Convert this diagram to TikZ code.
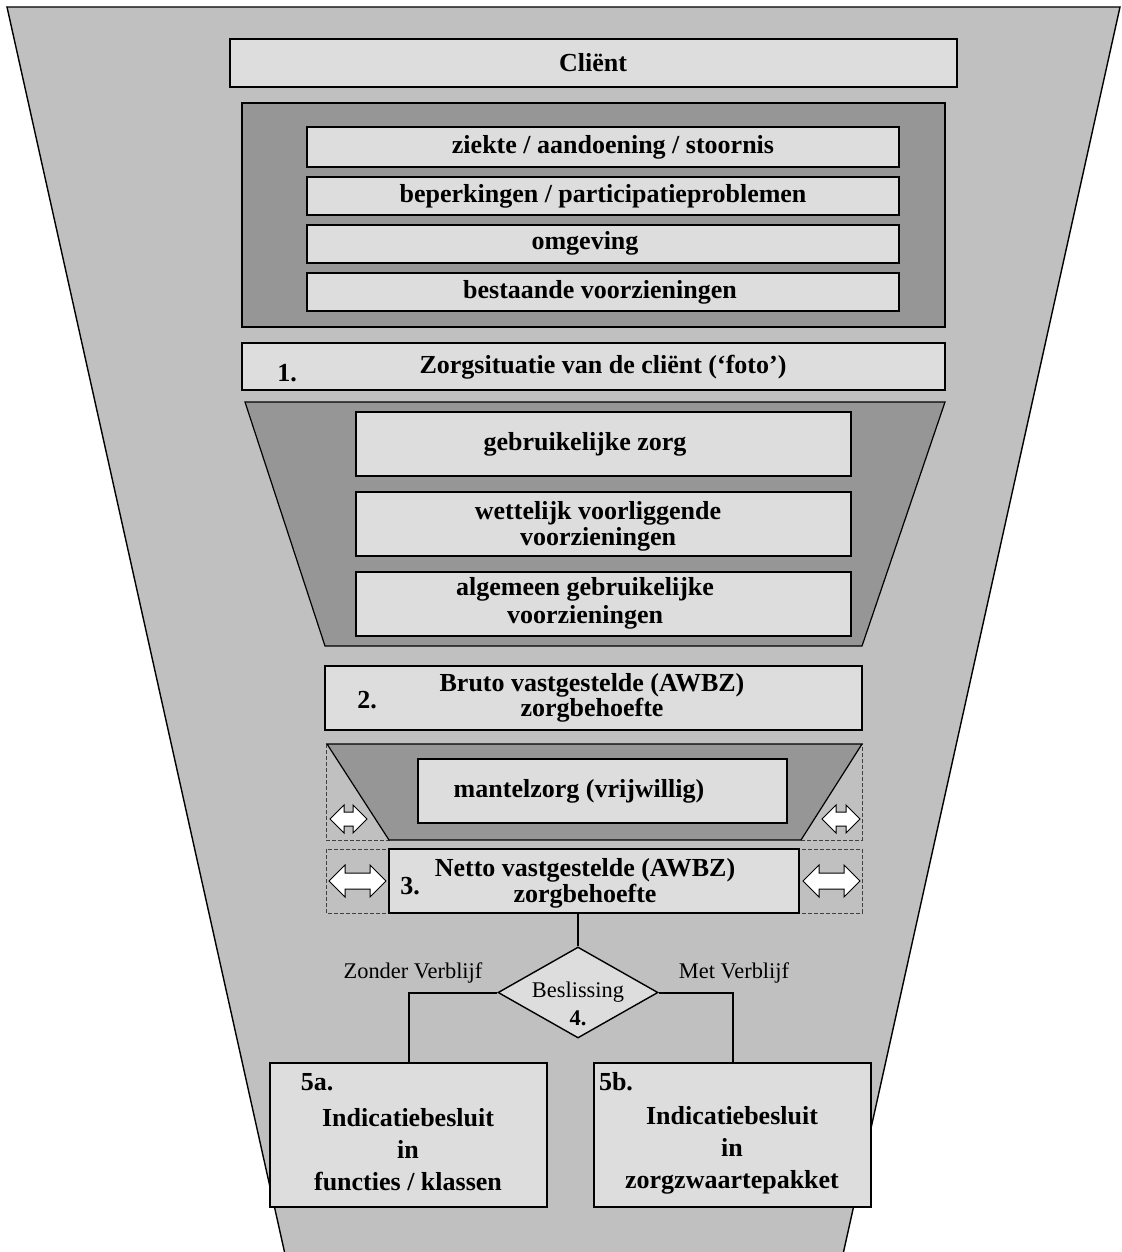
\documentclass[tikz,border=0pt]{standalone}
\usepackage{fontspec}
\setmainfont{Liberation Serif}
\usetikzlibrary{shapes.geometric,fit}
\definecolor{funnelgray}{HTML}{C0C0C0}
\definecolor{boxgray}{HTML}{DDDDDD}
\definecolor{filtergray}{HTML}{969696}
% left x, right x, y, half head height
\newcommand{\dblarrow}[4]{%
  \filldraw[fill=white,line width=0.5pt] (#1,#3) -- (#1+#4,#3-#4) -- (#1+#4,#3-#4/2)
    -- (#2-#4,#3-#4/2) -- (#2-#4,#3-#4) -- (#2,#3) -- (#2-#4,#3+#4)
    -- (#2-#4,#3+#4/2) -- (#1+#4,#3+#4/2) -- (#1+#4,#3+#4) -- cycle;}
\begin{document}
\begin{tikzpicture}[x=0.5pt,y=-0.5pt,
    box/.style={draw,fill=boxgray,line width=0.6pt,inner sep=0pt},
    bold/.style={font=\fontsize{13}{#1}\selectfont\bfseries,align=center,inner sep=0pt},
    bold/.default=13,
    plain/.style={font=\fontsize{11.2}{14}\selectfont,align=center,inner sep=0pt},
    dashbox/.style={draw=black!75,dash pattern=on 1.8pt off 1.2pt,line width=0.4pt},
    link/.style={line width=1pt}]
	\useasboundingbox (0,0) rectangle (1122,1252);
	% funnel
	\fill[funnelgray] (7,7) -- (1120,7) -- (843.5,1252) -- (284.5,1252) -- cycle;
	\draw[line width=0.7pt] (284.5,1252) -- (7,7) -- (1120,7) -- (843.5,1252);
	% client
	\node[box,fit={(230,39)(957,87)}] (client) {};
	\node[bold] (clientt) at (593,63) {Cliënt};
	% situation
	\filldraw[fill=filtergray,line width=0.6pt] (242,103) rectangle (945,327);
	\node[box,fit={(307,127)(899,167)}] (ziekte) {};
	\node[bold] (ziektet) at (613,147) {ziekte / aandoening / stoornis};
	\node[box,fit={(307,177)(899,215)}] (beperking) {};
	\node[bold] (beperkingt) at (603,196) {beperkingen / participatieproblemen};
	\node[box,fit={(307,225)(899,263)}] (omgeving) {};
	\node[bold] (omgevingt) at (585,243) {omgeving};
	\node[box,fit={(307,273)(899,311)}] (bestaand) {};
	\node[bold] (bestaandt) at (600,292) {bestaande voorzieningen};
	% step 1
	\node[box,fit={(242,343)(945,390)}] (stap1) {};
	\node[bold] (nr1) at (287,373) {1.};
	\node[bold] (stap1t) at (603,367) {Zorgsituatie van de cliënt (‘foto’)};
	% filter 1
	\filldraw[fill=filtergray,line width=0.6pt] (245,402) -- (945,402) -- (862,646) -- (325,646) -- cycle;
	\node[box,fit={(356,412)(851,476)}] (gebruik) {};
	\node[bold] (gebruikt) at (585,444) {gebruikelijke zorg};
	\node[box,fit={(356,492)(851,556)}] (wettelijk) {};
	\node[bold] (wettelijkt) at (598,526) {wettelijk voorliggende\\voorzieningen};
	\node[box,fit={(356,572)(851,636)}] (algemeen) {};
	\node[bold=14] (algemeent) at (585,603) {algemeen gebruikelijke\\voorzieningen};
	% step 2
	\node[box,fit={(325,666)(862,730)}] (stap2) {};
	\node[bold] (nr2) at (367,700) {2.};
	\node[bold=12.5] (stap2t) at (592,698) {Bruto vastgestelde (AWBZ)\\zorgbehoefte};
	% filter 2
	\draw[dashbox] (326,744) rectangle (389,840);
	\draw[dashbox] (801,744) rectangle (862,840);
	\filldraw[fill=filtergray,line width=0.6pt] (327,744) -- (862,744) -- (801,840) -- (389,840) -- cycle;
	\node[box,fit={(418,759)(787,823)}] (mantel) {};
	\node[bold] (mantelt) at (579,791) {mantelzorg (vrijwillig)};
	% step 3
	\draw[dashbox] (326,849) rectangle (862,913);
	\node[box,fit={(389,849)(799,913)}] (netto) {};
	\node[bold] (nr3) at (410,886) {3.};
	\node[bold=11] (nettot) at (585,883) {Netto vastgestelde (AWBZ)\\zorgbehoefte};
	\dblarrow{330}{367}{819}{14}
	\dblarrow{822}{860}{819}{14}
	\dblarrow{329}{386}{881}{16}
	\dblarrow{803}{860}{881}{16}
	% decision
	\node[draw,fill=boxgray,shape=diamond,minimum width=80pt,minimum height=45.5pt,inner sep=0pt,line width=0.7pt] (besl) at (578,992.5) {};
	\node[plain] (beslt) at (578,1004) {Beslissing\\\textbf{4.}};
	\node[plain] (zonder) at (413,973) {Zonder Verblijf};
	\node[plain] (met) at (734,973) {Met Verblijf};
	% step 5
	\node[box,fit={(270,1063)(547,1207)},line width=1.1pt] (besluita) {};
	\node[bold] (nr5a) at (317,1082) {5a.};
	\node[bold=16] (besluitat) at (408,1150) {Indicatiebesluit\\in\\functies / klassen};
	\node[box,fit={(594,1063)(871,1207)},line width=1.1pt] (besluitb) {};
	\node[bold] (nr5b) at (616,1082) {5b.};
	\node[bold=16] (besluitbt) at (732,1150) {Indicatiebesluit\\in\\zorgzwaartepakket};
	% connectors
	\draw[link] (besl.north) -- (besl.north |- netto.south);
	\draw[link] (besl.west) -| (besluita.north);
	\draw[link] (besl.east) -| (besluitb.north);
\end{tikzpicture}
\end{document}
